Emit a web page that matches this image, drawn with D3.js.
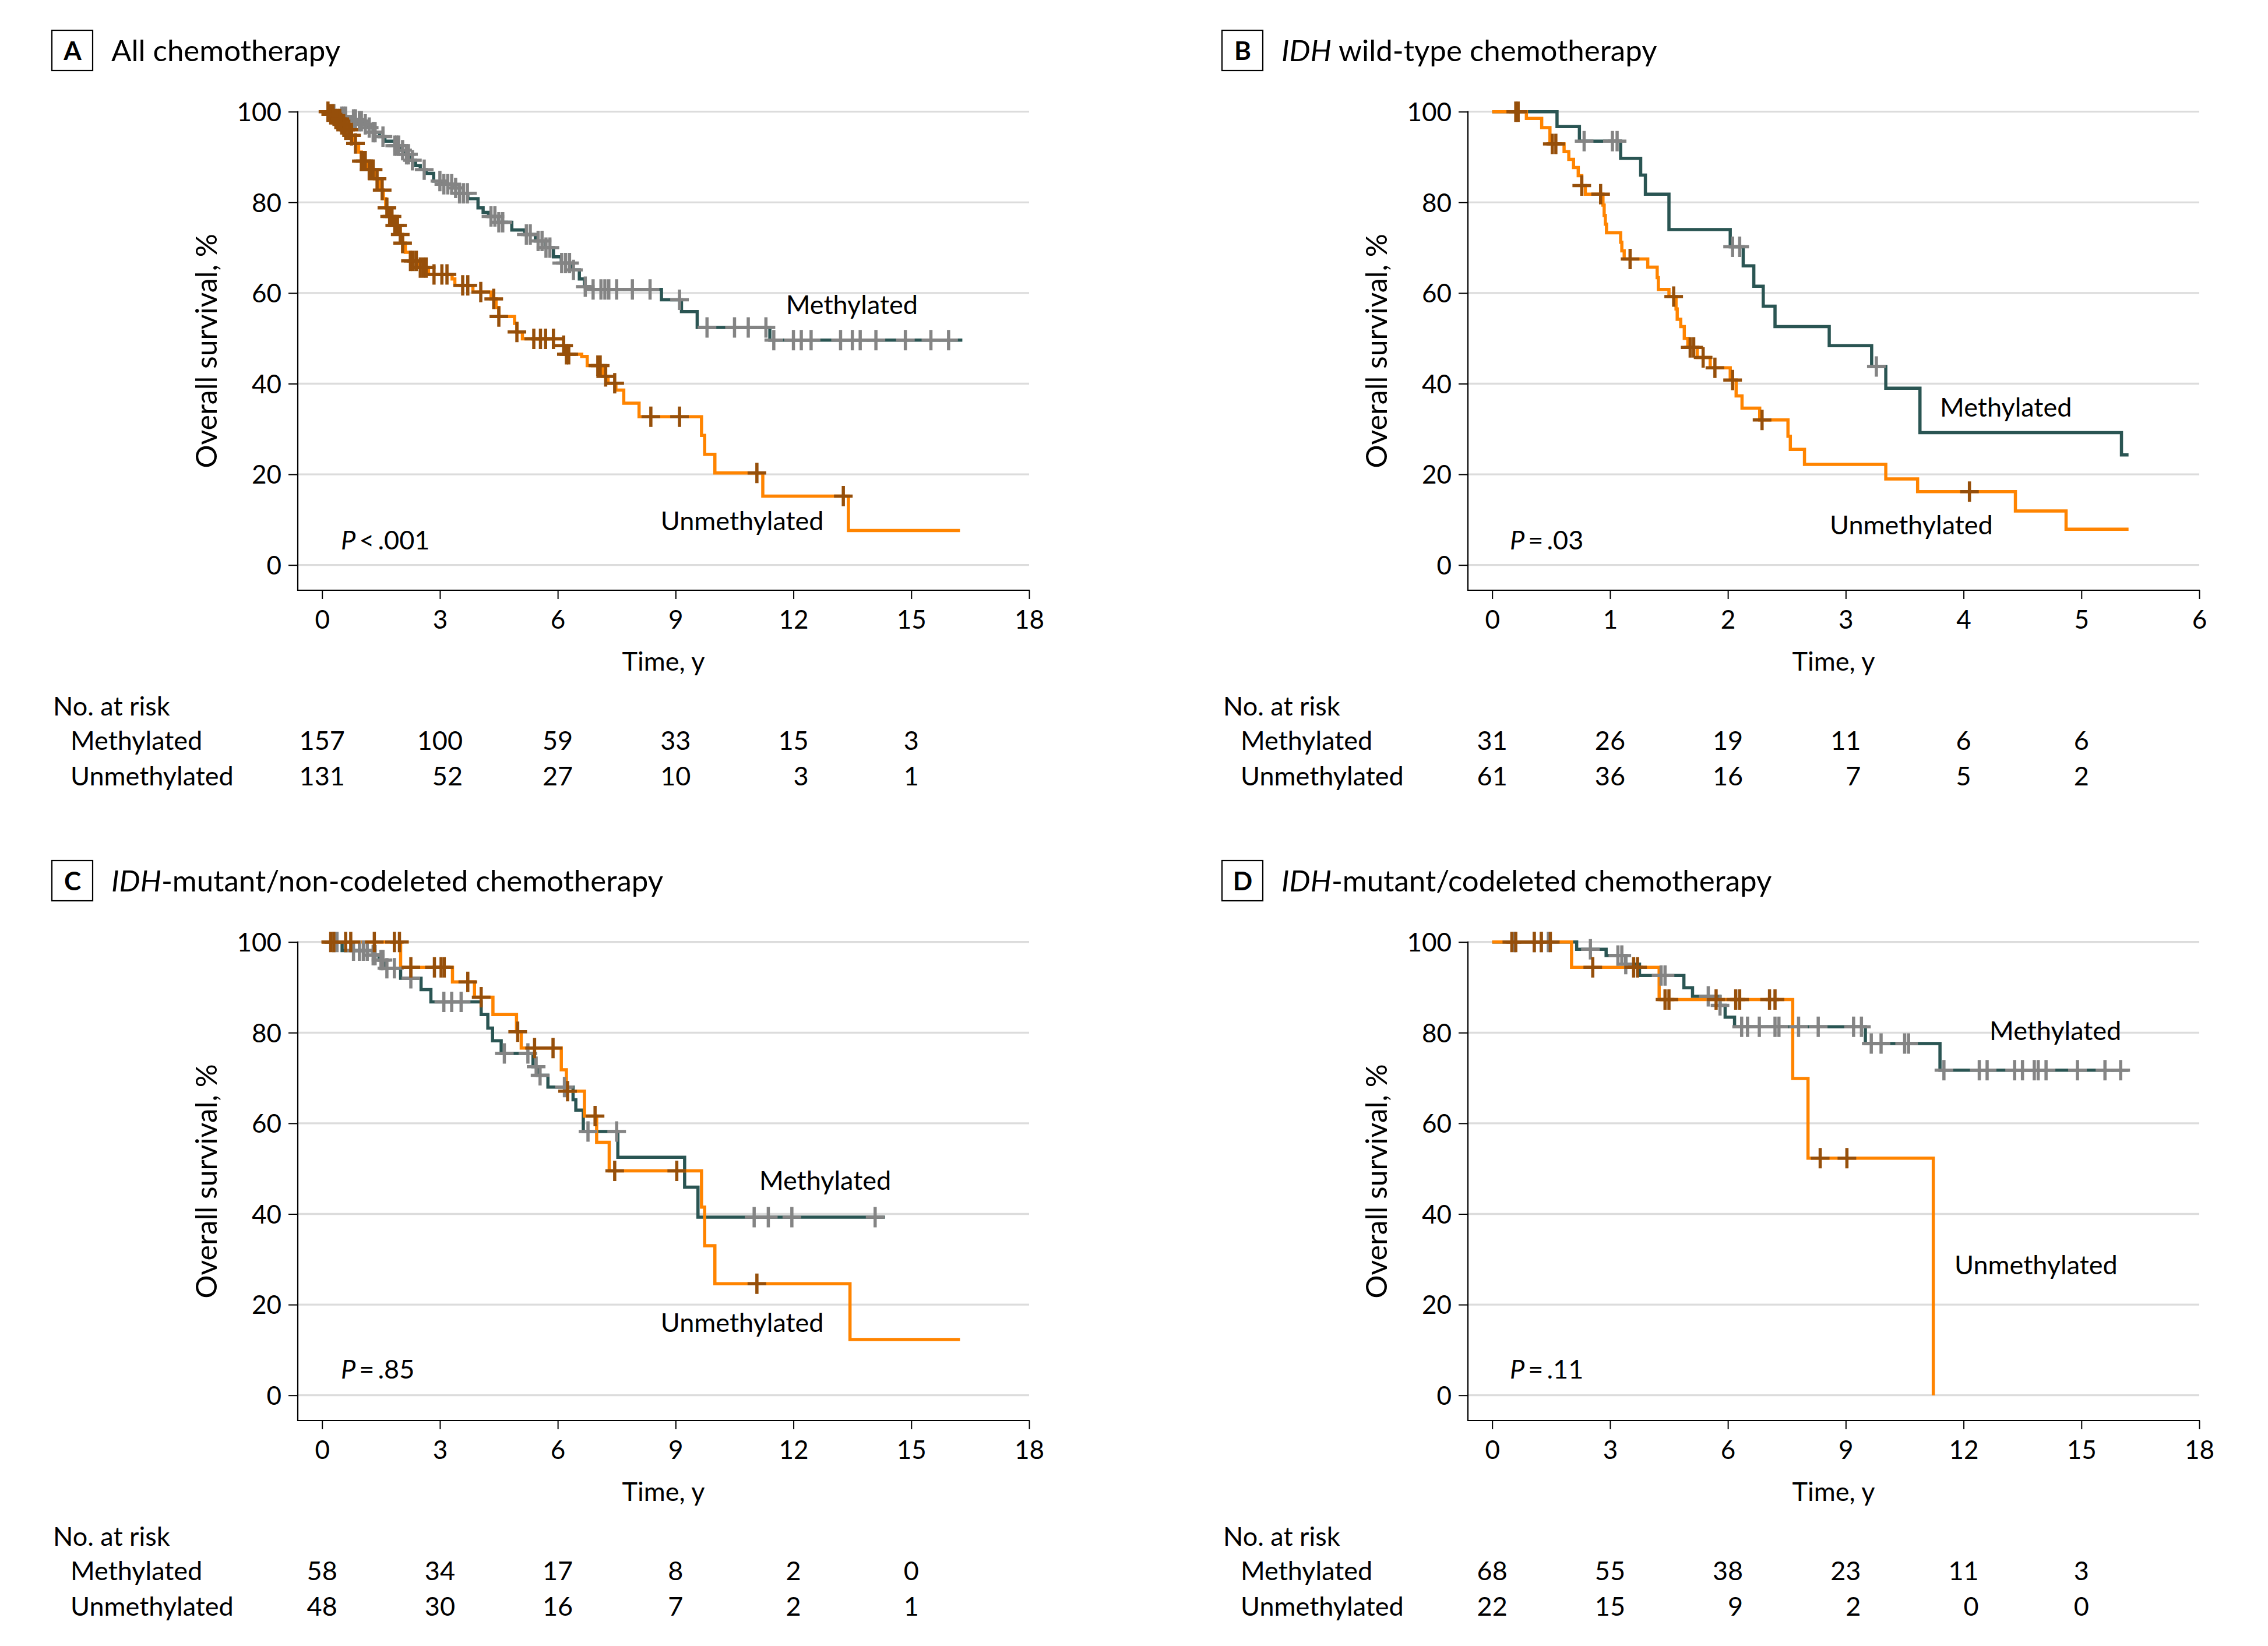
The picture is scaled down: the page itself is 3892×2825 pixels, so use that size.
<!DOCTYPE html>
<html><head><meta charset="utf-8">
<script src="https://cdn.jsdelivr.net/npm/d3@7"></script>
<style>body{margin:0;background:#fff}svg{display:block}</style>
</head><body>
<svg id="chart" width="3892" height="2825"></svg>
<script>
// ---------------- DATA ----------------
const panelLetters = ["A", "B", "C", "D"];
const panelTitles = [
  [["All chemotherapy", false]],
  [["IDH", true], [" wild-type chemotherapy", false]],
  [["IDH", true], ["-mutant/non-codeleted chemotherapy", false]],
  [["IDH", true], ["-mutant/codeleted chemotherapy", false]]
];
const panelXMax = [18, 6, 18, 18];
const panelPValues = ["<.001", "=.03", "=.85", "=.11"];
const seriesNames = ["Methylated", "Unmethylated"];
const yTicks = [0, 20, 40, 60, 80, 100];

// Kaplan-Meier steps [time (y), survival (%)]
const aMethSteps = [[0,100],[0.2,99.4],[0.45,98.9],[0.75,98.3],[0.93,97.9],[1.1,97.2],[1.19,96.5],[1.3,95.5],[1.46,94.5],[1.6,93.5],[1.85,92.5],[2.0,91.5],[2.12,90.6],[2.25,89.3],[2.38,88.1],[2.5,87.2],[2.65,86.4],[2.84,84.7],[3.05,84.0],[3.31,83.2],[3.5,82.0],[3.71,80.8],[3.97,78.8],[4.1,77.8],[4.24,76.9],[4.5,75.6],[4.83,73.9],[5.16,72.9],[5.43,71.5],[5.69,70.0],[5.89,68.0],[6.09,66.6],[6.35,65.1],[6.55,63.1],[6.68,61.4],[6.8,60.8],[8.64,58.5],[9.15,55.9],[9.55,52.4],[11.4,49.6]];
const aMethEnd = 16.3;
const aMethCens = [0.3,0.5,0.55,0.6,0.8,0.85,0.95,1.0,1.1,1.2,1.3,1.35,1.55,1.85,1.9,1.95,2.05,2.15,2.2,2.3,2.6,3.0,3.1,3.2,3.3,3.4,3.5,3.6,3.7,4.3,4.4,4.5,4.6,5.2,5.3,5.5,5.6,5.7,5.8,6.1,6.2,6.3,6.4,6.7,6.9,7.1,7.2,7.3,7.5,7.9,8.35,9.1,9.8,10.5,10.85,11.3,11.5,12.0,12.2,12.45,13.2,13.5,13.7,14.1,14.85,15.5,15.95];
const aUnmethSteps = [[0,100],[0.2,99.4],[0.33,98.4],[0.46,97.2],[0.6,96],[0.7,94.8],[0.8,93],[0.93,91.1],[1.0,89.1],[1.13,87.2],[1.33,85.2],[1.46,82.7],[1.56,80.8],[1.62,78.8],[1.72,76.9],[1.85,74.9],[1.99,72.9],[2.05,71],[2.12,69],[2.25,67.1],[2.45,65.6],[2.71,64.1],[3.31,63.1],[3.38,61.7],[3.84,60.2],[4.3,58.7],[4.43,56.8],[4.5,54.8],[4.9,53.3],[4.96,51.4],[5.1,49.9],[6.15,48.4],[6.22,46.5],[6.61,46],[6.75,44],[7.15,41.6],[7.28,40.1],[7.48,38.6],[7.68,35.7],[8.07,32.7],[9.66,28.6],[9.74,24.4],[10.0,20.3],[11.22,15.2],[13.4,7.6]];
const aUnmethEnd = 16.24;
const aUnmethCens = [0.15,0.22,0.28,0.35,0.4,0.45,0.5,0.55,0.6,0.68,0.75,0.85,1.0,1.05,1.1,1.2,1.25,1.3,1.4,1.53,1.65,1.72,1.78,1.85,1.92,1.99,2.05,2.25,2.32,2.4,2.5,2.58,2.65,2.85,3.05,3.18,3.58,3.71,4.04,4.37,4.5,4.96,5.39,5.56,5.69,5.89,6.15,6.22,6.28,7.02,7.08,7.22,7.45,8.37,9.1,11.07,13.27];

const bMethSteps = [[0,100],[0.55,96.7],[0.74,93.5],[1.09,89.7],[1.26,86],[1.3,81.8],[1.5,74],[2.02,70.2],[2.13,66],[2.22,61.5],[2.3,57.1],[2.4,52.6],[2.86,48.4],[3.22,43.8],[3.34,39],[3.63,29.2],[5.34,24.3]];
const bMethEnd = 5.4;
const bMethCens = [0.78,1.02,1.06,2.04,2.1,3.26];
const bUnmethSteps = [[0,100],[0.29,98.5],[0.42,96.5],[0.49,92.9],[0.61,91.2],[0.65,89.5],[0.69,87.7],[0.73,85.9],[0.76,83.7],[0.79,81.8],[0.94,79.4],[0.95,77.1],[0.96,75.2],[0.97,73.3],[1.09,71.2],[1.1,69.3],[1.12,67.5],[1.32,65.7],[1.4,63.4],[1.41,60.8],[1.5,59.2],[1.56,56.5],[1.57,54.2],[1.6,52.6],[1.63,50],[1.66,48],[1.74,45.8],[1.85,43.5],[2.02,40.8],[2.07,37.3],[2.12,34.6],[2.27,32],[2.51,28.4],[2.53,25.5],[2.65,22.2],[3.34,19],[3.61,16.2],[4.44,11.9],[4.87,7.9]];
const bUnmethEnd = 5.4;
const bUnmethCens = [0.2,0.22,0.51,0.54,0.76,0.92,1.17,1.54,1.68,1.71,1.79,1.89,2.04,2.29,4.05];

const cMethSteps = [[0,100],[0.51,98.1],[1.3,97.1],[1.45,96],[1.6,94.2],[2.0,92],[2.52,89.5],[2.77,86.8],[4.05,84],[4.22,81],[4.34,78.2],[4.56,75.4],[5.37,72.5],[5.49,70.6],[5.75,68],[6.39,65.2],[6.46,62.9],[6.65,58.2],[7.53,52.5],[9.23,45.9],[9.57,39.3]];
const cMethEnd = 14.33;
const cMethCens = [0.3,0.38,0.8,0.95,1.05,1.15,1.3,1.35,1.5,1.55,1.65,1.84,2.26,3.1,3.3,3.54,4.64,5.24,5.45,5.55,6.17,6.77,7.5,11.0,11.36,11.96,14.08];
const cUnmethSteps = [[0,100],[2.0,94.4],[3.32,91.2],[3.88,87.8],[4.35,84],[4.95,80.2],[5.07,76.6],[6.09,71.8],[6.22,67.1],[6.68,61.6],[6.99,55.8],[7.31,49.5],[9.66,41.5],[9.74,33],[10.0,24.6],[13.44,12.3]];
const cUnmethEnd = 16.24;
const cUnmethCens = [0.22,0.3,0.6,0.73,1.33,1.84,1.97,2.26,2.86,3.03,3.11,3.71,4.05,4.98,5.41,5.88,6.25,6.95,7.45,9.03,11.07];

const dMethSteps = [[0,100],[2.15,98.4],[2.9,97],[3.4,95.1],[3.75,92.6],[4.88,89.9],[5.1,88],[5.8,86],[5.93,83.4],[6.17,81.3],[9.5,77.6],[11.4,71.7]];
const dMethEnd = 16.2;
const dMethCens = [0.57,1.07,1.25,1.43,2.5,3.2,3.3,3.4,4.3,4.4,5.5,5.8,6.35,6.5,6.8,7.2,7.3,7.8,8.3,9.2,9.4,9.65,9.9,10.5,10.6,11.5,12.4,12.6,13.3,13.5,13.8,13.9,14.1,14.9,15.6,16.0];
const dUnmethSteps = [[0,100],[2.02,94.4],[4.25,87.3],[7.65,69.9],[8.04,52.3],[11.23,0]];
const dUnmethEnd = 11.23;
const dUnmethCens = [0.5,0.6,1.07,1.25,1.48,2.56,3.6,3.7,4.4,4.5,5.7,6.2,6.3,7.06,7.2,8.35,9.03];

// Number at risk
const riskTimesA = [0, 3, 6, 9, 12, 15];
const riskMethA = [157, 100, 59, 33, 15, 3];
const riskUnmethA = [131, 52, 27, 10, 3, 1];
const riskTimesB = [0, 1, 2, 3, 4, 5];
const riskMethB = [31, 26, 19, 11, 6, 6];
const riskUnmethB = [61, 36, 16, 7, 5, 2];
const riskTimesC = [0, 3, 6, 9, 12, 15];
const riskMethC = [58, 34, 17, 8, 2, 0];
const riskUnmethC = [48, 30, 16, 7, 2, 1];
const riskTimesD = [0, 3, 6, 9, 12, 15];
const riskMethD = [68, 55, 38, 23, 11, 3];
const riskUnmethD = [22, 15, 9, 2, 0, 0];

// Label anchors in data units [time, %]
const labelMethPos = [[11.81, 55.4], [3.80, 32.7], [11.13, 45.3], [12.66, 78.4]];
const labelUnmethPos = [[8.62, 7.7], [2.865, 6.8], [8.62, 14.0], [11.77, 26.7]];
const pValuePos = [[0.48, 3.4], [0.15, 3.4], [0.48, 3.7], [0.45, 3.7]];

// ---------------- STYLE / LAYOUT ----------------
const FONT = "Lato, 'Liberation Sans', sans-serif";
const COL_METH = "#2a5553", COL_METH_CENS = "#848484";
const COL_UNMETH = "#ff8400", COL_UNMETH_CENS = "#964f0a";
const GRID = "#dcdcdc";
const offsets = [[0, 0], [2008, 0], [0, 1425], [2008, 1425]];
const L = { x0: 552.7, x1: 1766, y0: 969.7, y100: 191.7, yAxisX: 511, xAxisY: 1013 };

const panels = [
  { meth: [aMethSteps, aMethEnd, aMethCens], un: [aUnmethSteps, aUnmethEnd, aUnmethCens], risk: [riskTimesA, riskMethA, riskUnmethA] },
  { meth: [bMethSteps, bMethEnd, bMethCens], un: [bUnmethSteps, bUnmethEnd, bUnmethCens], risk: [riskTimesB, riskMethB, riskUnmethB] },
  { meth: [cMethSteps, cMethEnd, cMethCens], un: [cUnmethSteps, cUnmethEnd, cUnmethCens], risk: [riskTimesC, riskMethC, riskUnmethC] },
  { meth: [dMethSteps, dMethEnd, dMethCens], un: [dUnmethSteps, dUnmethEnd, dUnmethCens], risk: [riskTimesD, riskMethD, riskUnmethD] }
];

const svg = d3.select("#chart");
svg.append("rect").attr("width", 3892).attr("height", 2825).attr("fill", "#fff");

function survAt(steps, t) {
  let s = steps[0][1];
  for (const st of steps) { if (st[0] <= t) s = st[1]; else break; }
  return s;
}

panels.forEach((p, i) => {
  const g = svg.append("g").attr("transform", `translate(${offsets[i][0]},${offsets[i][1]})`)
    .style("font-family", FONT);
  const xMax = panelXMax[i];
  const x = d3.scaleLinear().domain([0, xMax]).range([L.x0, L.x1]);
  const y = d3.scaleLinear().domain([0, 100]).range([L.y0, L.y100]);
  const xTicks = d3.range(0, xMax + 0.001, xMax / 6);

  // panel letter box + title
  g.append("rect").attr("x", 89).attr("y", 52).attr("width", 70).attr("height", 69)
    .attr("fill", "none").attr("stroke", "#000").attr("stroke-width", 2.2);
  g.append("text").attr("x", 124.5).attr("y", 102.5).attr("text-anchor", "middle")
    .attr("font-size", 44).attr("font-weight", "bold").text(panelLetters[i]);
  const tt = g.append("text").attr("x", 191).attr("y", 105).attr("font-size", 51);
  panelTitles[i].forEach(([s, it]) => tt.append("tspan").attr("font-style", it ? "italic" : "normal").text(s));

  // gridlines
  g.append("g").selectAll("line").data(yTicks).join("line")
    .attr("x1", L.yAxisX).attr("x2", L.x1).attr("y1", d => y(d)).attr("y2", d => y(d))
    .attr("stroke", GRID).attr("stroke-width", 3.3);

  // y axis
  const ya = g.append("g").attr("transform", `translate(${L.yAxisX},0)`)
    .call(d3.axisLeft(y).tickValues(yTicks).tickSize(16).tickPadding(12).tickSizeOuter(0));
  ya.select(".domain").remove();
  ya.selectAll(".tick line").attr("stroke", "#000").attr("stroke-width", 2);
  ya.selectAll(".tick text").attr("font-size", 44).attr("font-family", FONT).attr("fill", "#000").attr("dy", "0.36em");
  g.append("line").attr("x1", L.yAxisX).attr("x2", L.yAxisX).attr("y1", L.y100 - 1).attr("y2", L.xAxisY + 1)
    .attr("stroke", "#000").attr("stroke-width", 2.2);

  // x axis
  const xa = g.append("g").attr("transform", `translate(0,${L.xAxisY})`)
    .call(d3.axisBottom(x).tickValues(xTicks).tickFormat(d3.format("d")).tickSize(15).tickPadding(20).tickSizeOuter(0));
  xa.select(".domain").remove();
  xa.selectAll(".tick line").attr("stroke", "#000").attr("stroke-width", 2);
  xa.selectAll(".tick text").attr("font-size", 44).attr("font-family", FONT).attr("fill", "#000");
  g.append("line").attr("x1", L.yAxisX).attr("x2", L.x1 + 1).attr("y1", L.xAxisY).attr("y2", L.xAxisY)
    .attr("stroke", "#000").attr("stroke-width", 2.2);

  // axis titles
  g.append("text").attr("x", (L.yAxisX + L.x1) / 2).attr("y", 1151).attr("text-anchor", "middle")
    .attr("font-size", 45).text("Time, y");
  g.append("text").attr("transform", `translate(372,${(L.y100 + L.xAxisY) / 2}) rotate(-90)`)
    .attr("text-anchor", "middle").attr("font-size", 50).text("Overall survival, %");

  // curves
  const line = d3.line().curve(d3.curveStepAfter).x(d => x(d[0])).y(d => y(d[1]));
  const series = [[p.meth, COL_METH, COL_METH_CENS], [p.un, COL_UNMETH, COL_UNMETH_CENS]];
  series.forEach(([[steps, end], col]) => {
    const pts = steps.concat([[end, steps[steps.length - 1][1]]]);
    g.append("path").attr("d", line(pts)).attr("fill", "none").attr("stroke", col)
      .attr("stroke-width", 5.5).attr("stroke-linejoin", "miter");
  });
  series.forEach(([[steps, end, cens], col, ccol]) => {
    g.append("g").selectAll("path").data(cens).join("path")
      .attr("d", t => { const cx = x(t), cy = y(survAt(steps, t));
        return `M${cx - 16},${cy}H${cx + 16}M${cx},${cy - 17.5}V${cy + 17.5}`; })
      .attr("stroke", ccol).attr("stroke-width", 5.5).attr("fill", "none");
  });

  // labels
  g.append("text").attr("x", x(labelMethPos[i][0])).attr("y", y(labelMethPos[i][1]))
    .attr("font-size", 45).text(seriesNames[0]);
  g.append("text").attr("x", x(labelUnmethPos[i][0])).attr("y", y(labelUnmethPos[i][1]))
    .attr("font-size", 45).text(seriesNames[1]);
  const pt = g.append("text").attr("x", x(pValuePos[i][0])).attr("y", y(pValuePos[i][1])).attr("font-size", 45);
  pt.append("tspan").attr("font-style", "italic").text("P");
  const pv = panelPValues[i];
  pt.append("tspan").attr("dx", 6).text(pv[0]);
  pt.append("tspan").attr("dx", 6).text(pv.slice(1));

  // number at risk table
  g.append("text").attr("x", 91).attr("y", 1228).attr("font-size", 45).text("No. at risk");
  const rowY = [1287, 1348];
  seriesNames.forEach((n, r) => g.append("text").attr("x", 121).attr("y", rowY[r]).attr("font-size", 45).text(n));
  const [rt, rm, ru] = p.risk;
  const digitW = 0.58 * 45;
  rt.forEach((t, k) => {
    const maxLen = Math.max(String(rm[k]).length, String(ru[k]).length);
    const right = x(t) + maxLen * digitW / 2;
    [rm[k], ru[k]].forEach((v, r) => g.append("text").attr("x", right).attr("y", rowY[r])
      .attr("text-anchor", "end").attr("font-size", 45).text(v));
  });
});
</script>
</body></html>
